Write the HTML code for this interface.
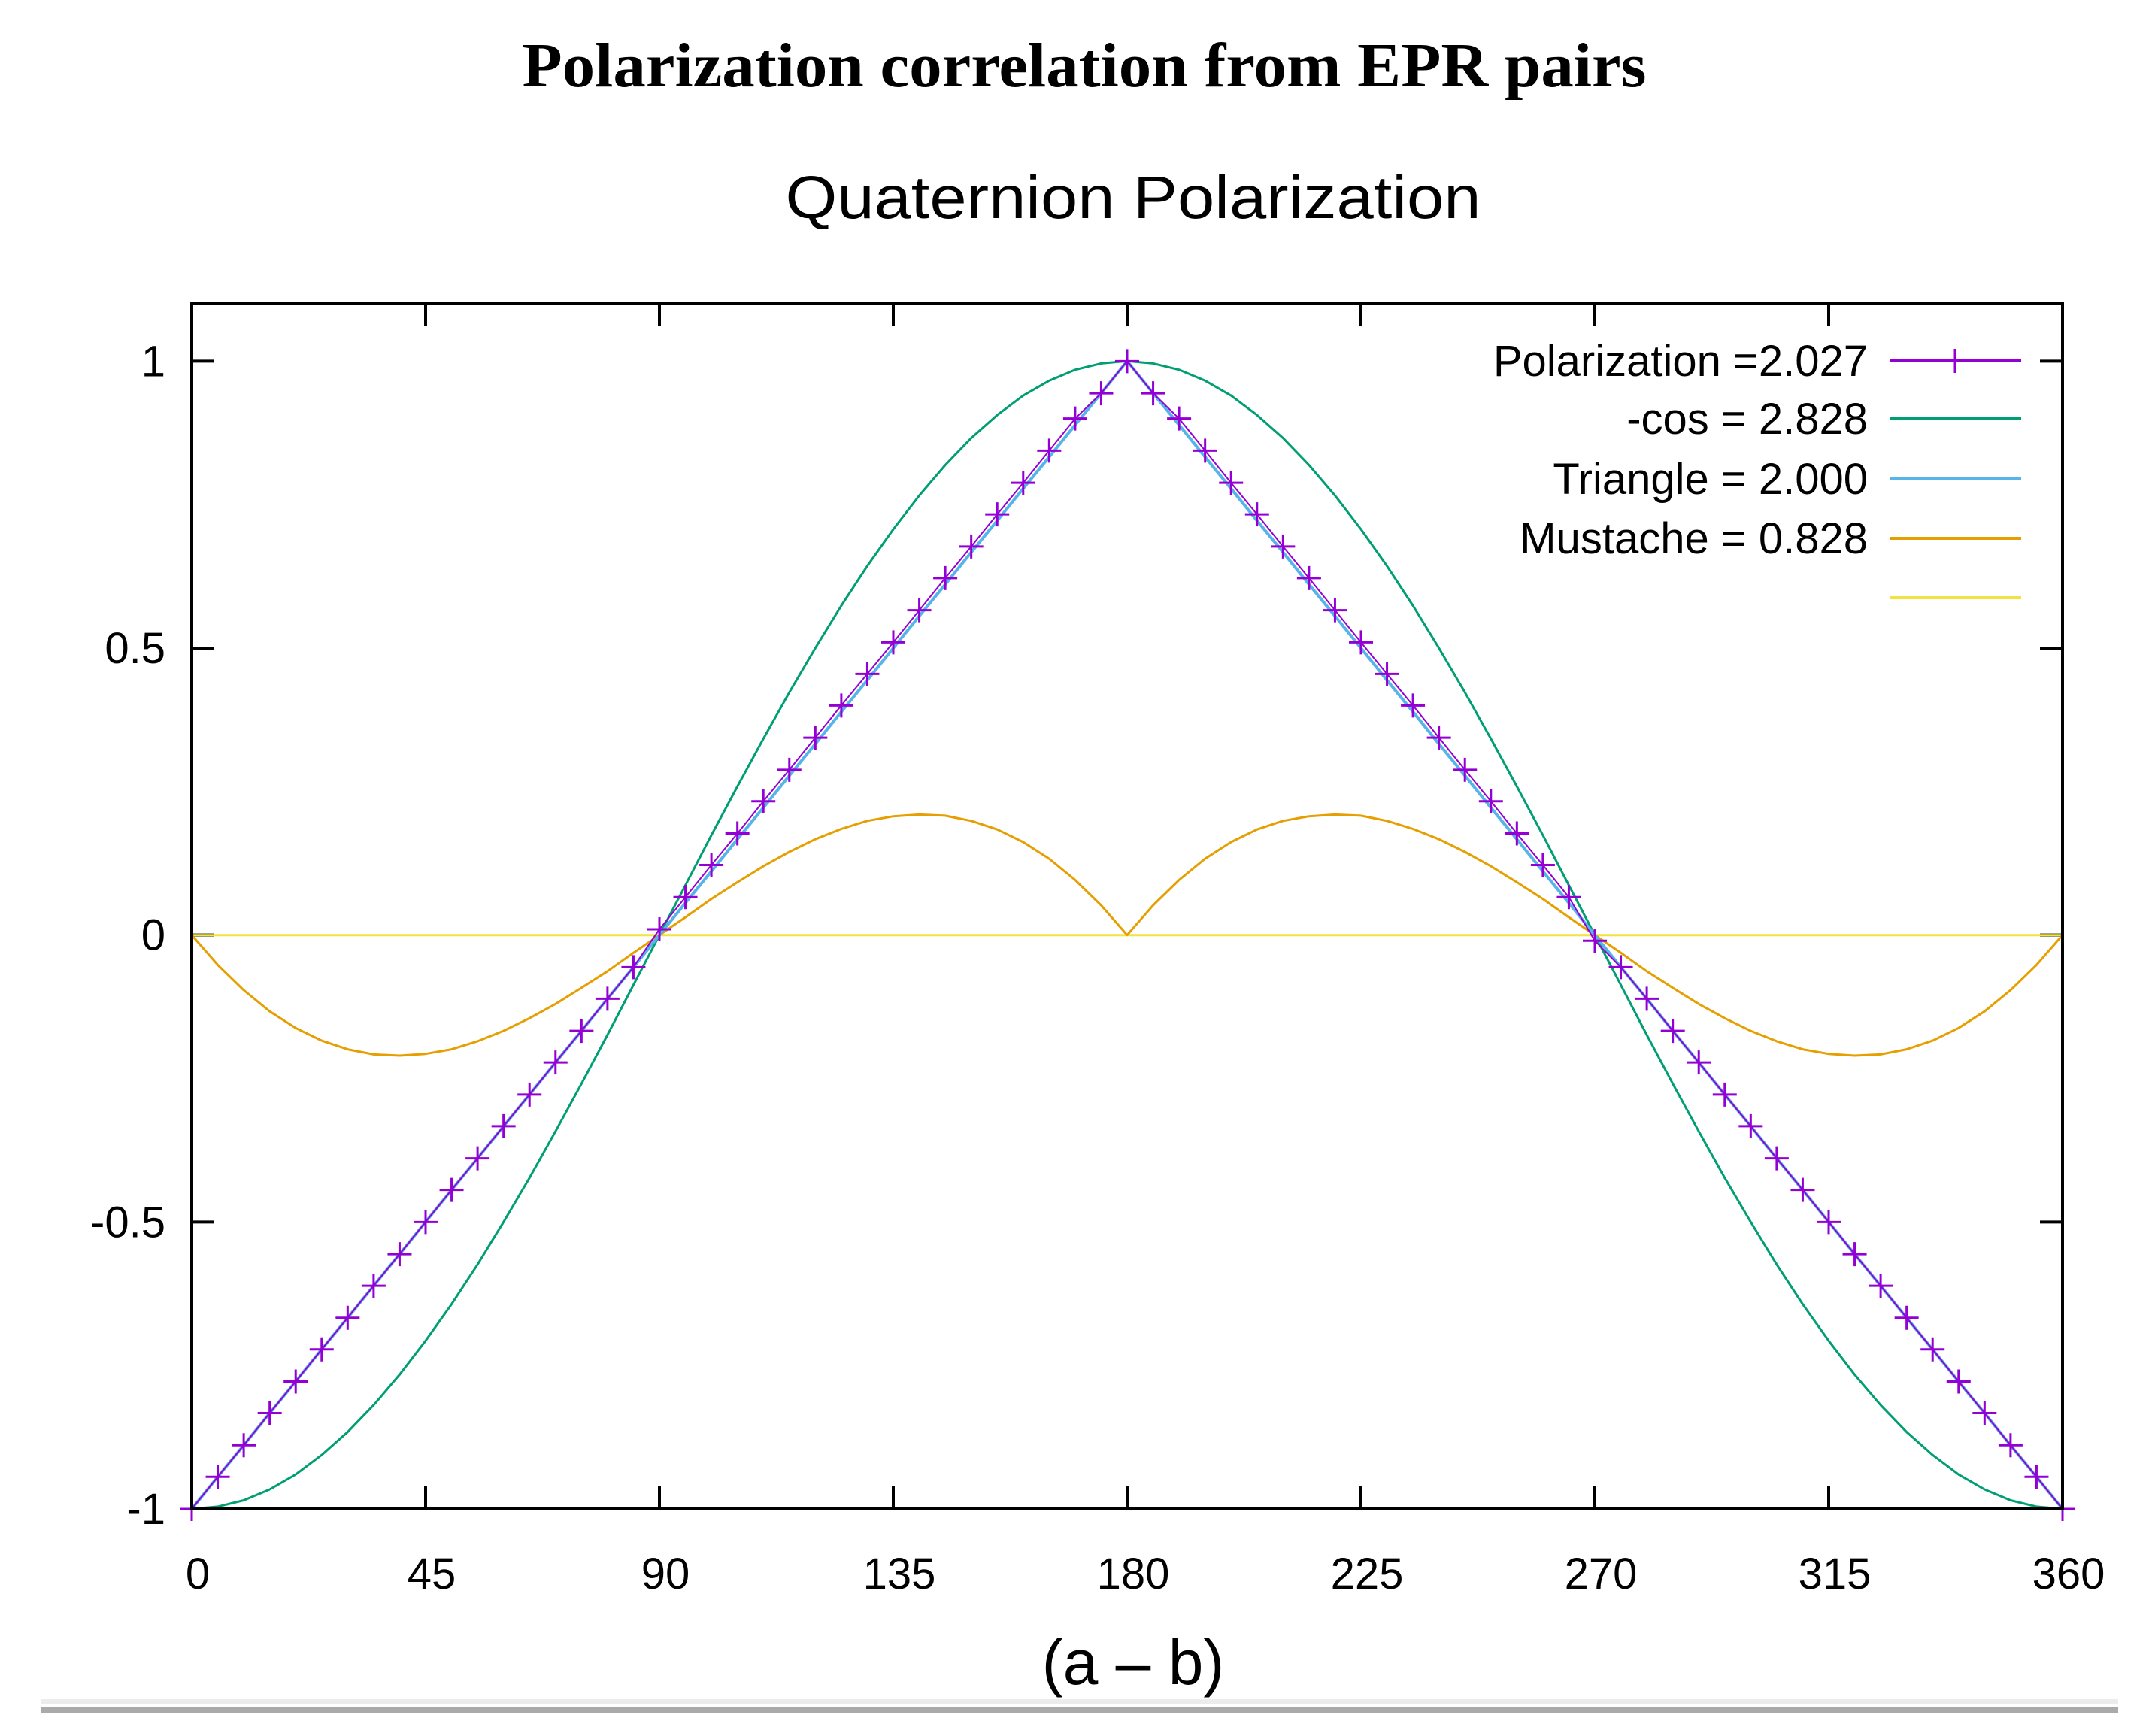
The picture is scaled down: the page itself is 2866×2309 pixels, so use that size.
<!DOCTYPE html>
<html><head><meta charset="utf-8"><style>
html,body{margin:0;padding:0;background:#fff;}
svg{display:block;}
</style></head><body>
<svg id="chart" width="2866" height="2309" viewBox="0 0 2866 2309" xmlns="http://www.w3.org/2000/svg">
<text x="1442" y="115" text-anchor="middle" font-family="Liberation Serif, serif" font-weight="bold" font-size="84" textLength="1495" lengthAdjust="spacingAndGlyphs">Polarization correlation from EPR pairs</text>
<text x="1507" y="290" text-anchor="middle" font-family="Liberation Sans, sans-serif" font-size="80" textLength="925" lengthAdjust="spacingAndGlyphs">Quaternion Polarization</text>
<g id="plot"></g>
<text x="1507" y="2240" text-anchor="middle" font-family="Liberation Sans, sans-serif" font-size="84">(a – b)</text>
<rect x="55" y="2260" width="2762" height="6" fill="#ececec"/>
<rect x="55" y="2270" width="2762" height="8" fill="#aaaaaa"/>
</svg>
<script>
const angles = [0,5,10,15,20,25,30,35,40,45,50,55,60,65,70,75,80,85,90,95,100,105,110,115,120,125,130,135,140,145,150,155,160,165,170,175,180,185,190,195,200,205,210,215,220,225,230,235,240,245,250,255,260,265,270,275,280,285,290,295,300,305,310,315,320,325,330,335,340,345,350,355,360];
const polValues = [-1,-0.944,-0.889,-0.833,-0.778,-0.722,-0.667,-0.611,-0.556,-0.5,-0.444,-0.389,-0.333,-0.278,-0.222,-0.167,-0.111,-0.056,0.01,0.066,0.122,0.177,0.233,0.288,0.344,0.4,0.455,0.51,0.566,0.622,0.677,0.733,0.788,0.844,0.9,0.944,1,0.944,0.9,0.844,0.788,0.733,0.677,0.622,0.566,0.51,0.455,0.4,0.344,0.288,0.233,0.177,0.122,0.066,-0.01,-0.056,-0.111,-0.167,-0.222,-0.278,-0.333,-0.389,-0.444,-0.5,-0.556,-0.611,-0.667,-0.722,-0.778,-0.833,-0.889,-0.944,-1];
const cosValues = [-1,-0.996,-0.985,-0.966,-0.940,-0.906,-0.866,-0.819,-0.766,-0.707,-0.643,-0.574,-0.5,-0.423,-0.342,-0.259,-0.174,-0.087,0,0.087,0.174,0.259,0.342,0.423,0.5,0.574,0.643,0.707,0.766,0.819,0.866,0.906,0.940,0.966,0.985,0.996,1,0.996,0.985,0.966,0.940,0.906,0.866,0.819,0.766,0.707,0.643,0.574,0.5,0.423,0.342,0.259,0.174,0.087,0,-0.087,-0.174,-0.259,-0.342,-0.423,-0.5,-0.574,-0.643,-0.707,-0.766,-0.819,-0.866,-0.906,-0.940,-0.966,-0.985,-0.996,-1];
const triValues = [-1,-0.944,-0.889,-0.833,-0.778,-0.722,-0.667,-0.611,-0.556,-0.5,-0.444,-0.389,-0.333,-0.278,-0.222,-0.167,-0.111,-0.056,0,0.056,0.111,0.167,0.222,0.278,0.333,0.389,0.444,0.5,0.556,0.611,0.667,0.722,0.778,0.833,0.889,0.944,1,0.944,0.889,0.833,0.778,0.722,0.667,0.611,0.556,0.5,0.444,0.389,0.333,0.278,0.222,0.167,0.111,0.056,0,-0.056,-0.111,-0.167,-0.222,-0.278,-0.333,-0.389,-0.444,-0.5,-0.556,-0.611,-0.667,-0.722,-0.778,-0.833,-0.889,-0.944,-1];
const mustacheValues = [0,-0.052,-0.096,-0.133,-0.162,-0.184,-0.199,-0.208,-0.210,-0.207,-0.199,-0.185,-0.167,-0.145,-0.120,-0.092,-0.063,-0.031,0,0.031,0.063,0.092,0.120,0.145,0.167,0.185,0.199,0.207,0.210,0.208,0.199,0.184,0.162,0.133,0.096,0.052,0,0.052,0.096,0.133,0.162,0.184,0.199,0.207,0.210,0.208,0.199,0.185,0.167,0.145,0.120,0.092,0.063,0.031,0,-0.031,-0.063,-0.092,-0.120,-0.145,-0.167,-0.185,-0.199,-0.207,-0.210,-0.208,-0.199,-0.184,-0.162,-0.133,-0.096,-0.052,0];
const zeroAngles = [0,360];
const zeroValues = [0,0];
const xTicks = [0,45,90,135,180,225,270,315,360];
const yTicks = [-1,-0.5,0,0.5,1];
const yTickLabels = ["-1","-0.5","0","0.5","1"];
const legendLabels = ["Polarization =2.027","-cos = 2.828","Triangle = 2.000","Mustache = 0.828",""];

const NS="http://www.w3.org/2000/svg";
const L=255,R=2743,T=404,B=2007,XMIN=0,XMAX=360,YMIN=-1,YMAX=1.1;
function xs(v){return L+(v-XMIN)/(XMAX-XMIN)*(R-L);}
function ys(v){return B-(v-YMIN)/(YMAX-YMIN)*(B-T);}
const g=document.getElementById('plot');
function mk(tag,attrs,parent){const e=document.createElementNS(NS,tag);for(const k in attrs)e.setAttribute(k,attrs[k]);(parent||g).appendChild(e);return e;}

xTicks.forEach(t=>{
  const a=mk('line',{x1:xs(t),x2:xs(t),y1:B,y2:B-30,stroke:'#000','stroke-width':4});
  
  
  const b=mk('line',{x1:xs(t),x2:xs(t),y1:T,y2:T+30,stroke:'#000','stroke-width':4});
  
  
  const tx=mk('text',{x:xs(t)+8,y:2113,'text-anchor':'middle','font-family':'Liberation Sans, sans-serif','font-size':58});
  tx.textContent=String(t);
  
  
});
yTicks.forEach((t,i)=>{
  const a=mk('line',{x1:L,x2:L+30,y1:ys(t),y2:ys(t),stroke:'#000','stroke-width':4});
  
  
  const b=mk('line',{x1:R,x2:R-30,y1:ys(t),y2:ys(t),stroke:'#000','stroke-width':4});
  
  
  const tx=mk('text',{x:220,y:ys(t)+20,'text-anchor':'end','font-family':'Liberation Sans, sans-serif','font-size':58});
  tx.textContent=yTickLabels[i];
  
  
});

function series(xsArr,ysArr,color,w,name){
  const d=xsArr.map((x,i)=>(i?'L':'M')+xs(x).toFixed(1)+' '+ys(ysArr[i]).toFixed(1)).join(' ');
  const p=mk('path',{d:d,fill:'none',stroke:color,'stroke-width':w,'stroke-linejoin':'round'});
  
  
  return p;
}
series(zeroAngles,zeroValues,'#f0e442',3,'zero-line');
series(angles,mustacheValues,'#e69f00',3,'mustache-line');
series(angles,cosValues,'#009e73',3,'neg-cos-line');
series(angles,triValues,'#56b4e9',4,'triangle-line');
series(angles,polValues,'#9400d3',2,'polarization-line');
angles.forEach((a,i)=>{
  const x=xs(a),y=ys(polValues[i]);
  const m=mk('path',{d:`M${x-16} ${y}H${x+16}M${x} ${y-16}V${y+16}`,stroke:'#9400d3','stroke-width':3,fill:'none'});
  
  
});

const fr=mk('rect',{x:L,y:T,width:R-L,height:B-T,fill:'none',stroke:'#000','stroke-width':4});



const legColors=['#9400d3','#009e73','#56b4e9','#e69f00','#f0e442'];
const legY=[480,557,637,716,795];
legendLabels.forEach((lab,i)=>{
  const tx=mk('text',{x:2484,y:legY[i]+20,'text-anchor':'end','font-family':'Liberation Sans, sans-serif','font-size':58});
  tx.textContent=lab;
  
  
  const ln=mk('line',{x1:2513,x2:2688,y1:legY[i],y2:legY[i],stroke:legColors[i],'stroke-width':4});
  
  
});
const lm=mk('path',{d:'M2600 464V496',stroke:'#9400d3','stroke-width':3});


</script>
</body></html>
